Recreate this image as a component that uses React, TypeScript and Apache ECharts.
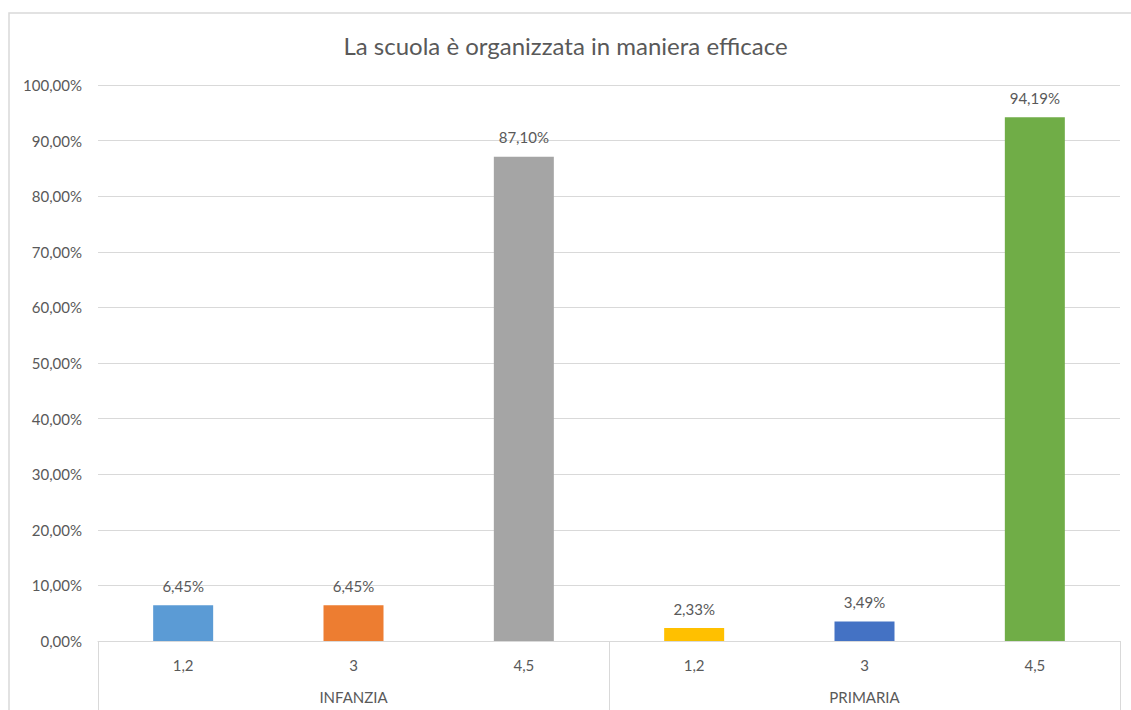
import React, { useEffect, useRef } from "react";
import * as echarts from "echarts";

const title = "La scuola è organizzata in maniera efficace";
const categories = ["1,2", "3", "4,5", "1,2", "3", "4,5"];
const groups = ["INFANZIA", "PRIMARIA"];
const values = [6.45, 6.45, 87.1, 2.33, 3.49, 94.19];
const colors = ["#5B9BD5", "#ED7D31", "#A5A5A5", "#FFC000", "#4472C4", "#70AD47"];
const yTicks = [0, 10, 20, 30, 40, 50, 60, 70, 80, 90, 100];

const fmt = (v: number) => v.toFixed(2).replace(".", ",") + "%";
const FONT = "Lato, 'Open Sans', sans-serif";
const TXT = "#595959";

export default function App() {
  const ref = useRef<HTMLDivElement>(null);
  useEffect(() => {
    const chart = echarts.init(ref.current!, undefined, { renderer: "svg" });
    chart.setOption({
      animation: false,
      backgroundColor: "#ffffff",
      title: {
        text: title,
        left: "center",
        top: 28,
        textStyle: { color: TXT, fontSize: 24, fontWeight: "normal", fontFamily: FONT },
      },
      graphic: [
        {
          type: "rect",
          shape: { x: 9, y: 13, width: 1200, height: 800 },
          style: { fill: "none", stroke: "#D9D9D9", lineWidth: 1.5 },
          silent: true,
        },
      ],
      grid: { left: 98, right: 11, top: 85, bottom: 69, containLabel: false },
      xAxis: [
        {
          type: "category",
          data: categories,
          axisLine: { show: true, lineStyle: { color: "#D9D9D9" } },
          axisTick: { show: false },
          axisLabel: { color: TXT, fontSize: 15, fontFamily: FONT, margin: 16 },
        },
        {
          type: "category",
          data: groups,
          position: "bottom",
          axisLine: { show: false },
          axisTick: { show: true, length: 72, interval: 0, lineStyle: { color: "#D9D9D9" } },
          axisLabel: { color: TXT, fontSize: 15, fontFamily: FONT, margin: 48 },
        },
      ],
      yAxis: {
        type: "value",
        min: yTicks[0],
        max: yTicks[yTicks.length - 1],
        interval: 10,
        axisLine: { show: false },
        axisTick: { show: false },
        splitLine: { lineStyle: { color: "#D9D9D9" } },
        axisLabel: {
          color: TXT,
          fontSize: 15,
          fontFamily: FONT,
          margin: 16,
          formatter: (v: number) => fmt(v),
        },
      },
      series: [
        {
          type: "bar",
          xAxisIndex: 0,
          barWidth: 60,
          data: values.map((v, i) => ({ value: v, itemStyle: { color: colors[i] } })),
          label: {
            show: true,
            position: "top",
            distance: 12,
            color: TXT,
            fontSize: 15,
            fontFamily: FONT,
            formatter: (p: any) => fmt(p.value),
          },
        },
      ],
    });
    return () => chart.dispose();
  }, []);
  return (
    <div
      ref={ref}
      style={{ position: "absolute", left: 0, top: 0, width: 1131, height: 710 }}
    />
  );
}
